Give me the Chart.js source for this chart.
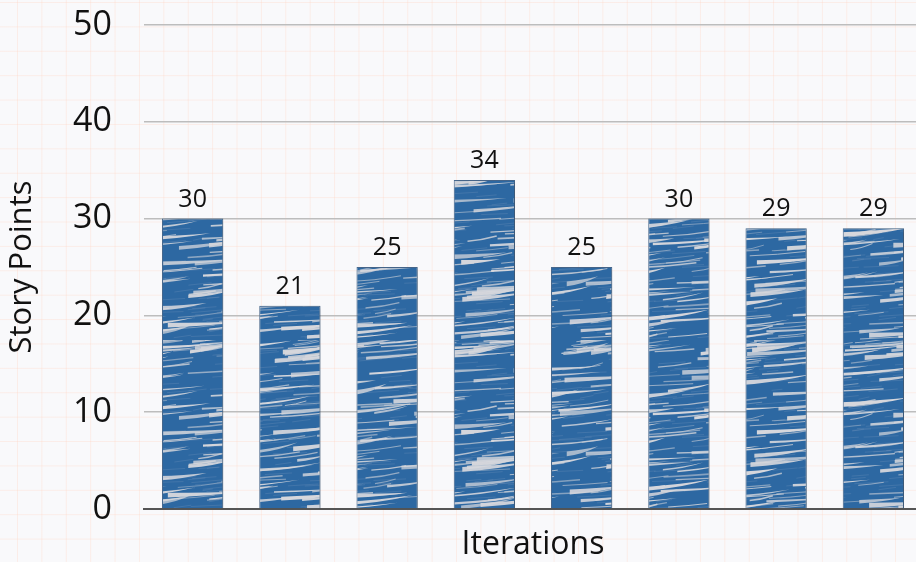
<!DOCTYPE html>
<html>
<head>
<meta charset="utf-8">
<script src="https://cdn.jsdelivr.net/npm/chart.js@4.4.1/dist/chart.umd.min.js"></script>
<style>
  html, body { margin: 0; padding: 0; overflow: hidden; }
  body {
    width: 916px; height: 562px;
    background-color: #f9f9fb;
    background-image:
      linear-gradient(to right, rgba(255, 214, 196, 0.35) 1px, transparent 1px),
      linear-gradient(to bottom, rgba(255, 214, 196, 0.35) 1px, transparent 1px);
    background-size: 24.4px 24.4px;
    background-position: 17px 2px;
  }
  #wrap { position: relative; width: 922px; height: 562px; }
</style>
</head>
<body>
<div id="wrap"><canvas id="chart"></canvas></div>
<script>
const iterations = ['Iteration 1', 'Iteration 2', 'Iteration 3', 'Iteration 4',
                    'Iteration 5', 'Iteration 6', 'Iteration 7', 'Iteration 8'];
const storyPoints = [30, 21, 25, 34, 25, 30, 29, 29];
const yTicks = [0, 10, 20, 30, 40, 50];

const FONT = '"Open Sans", Lato, sans-serif';

// Hand-drawn scribble texture for the bars: blue ground with pale streaks.
function scribblePattern() {
  const c = document.createElement('canvas');
  c.width = 980; c.height = 170;
  const g = c.getContext('2d');
  g.fillStyle = '#2d68a2';
  g.fillRect(0, 0, c.width, c.height);
  let s = 11;
  const next = () => { s = (s * 9301 + 49297) % 233280; return s / 233280; };
  // short faint hatching underneath
  for (let i = 0; i < 500; i++) {
    const y = next() * c.height;
    const x0 = next() * c.width;
    g.strokeStyle = 'rgba(150,172,200,0.4)';
    g.lineWidth = 0.5;
    g.beginPath();
    g.moveTo(x0, y);
    g.lineTo(x0 + 10 + next() * 25, y - 1 - next() * 2);
    g.stroke();
  }
  // thin pale strokes
  for (let i = 0; i < 260; i++) {
    const y = next() * c.height;
    const x0 = next() * c.width;
    const len = 20 + next() * 45;
    g.strokeStyle = 'rgba(205,208,215,' + (0.5 + next() * 0.4).toFixed(2) + ')';
    g.lineWidth = 0.6 + next() * 1.0;
    g.beginPath();
    g.moveTo(x0, y);
    g.quadraticCurveTo(x0 + len * 0.5, y - 1, x0 + len, y - 2 - next() * 4);
    g.stroke();
  }
  // tapered pale wedges, thick on the left and fading out to the right
  for (let i = 0; i < 300; i++) {
    const y = next() * c.height;
    const x0 = next() * c.width;
    const len = 30 + next() * 55;
    const rise = 3 + next() * 6;
    const w = 1 + next() * 4;
    g.fillStyle = 'rgba(214,215,220,' + (0.7 + next() * 0.3).toFixed(2) + ')';
    g.beginPath();
    g.moveTo(x0, y - w / 2);
    g.quadraticCurveTo(x0 + len * 0.55, y - rise * 0.4 - w * 0.2, x0 + len, y - rise);
    g.quadraticCurveTo(x0 + len * 0.55, y - rise * 0.2 + w * 0.3, x0, y + w / 2);
    g.closePath();
    g.fill();
  }
  return g.createPattern(c, 'repeat');
}

const barShadow = {
  id: 'barShadow',
  beforeDatasetsDraw(chart) {
    const ctx = chart.ctx;
    ctx.save();
    ctx.shadowColor = 'rgba(0,0,0,0.25)';
    ctx.shadowBlur = 5;
    ctx.shadowOffsetX = 2;
    ctx.shadowOffsetY = 1;
  },
  afterDatasetsDraw(chart) {
    chart.ctx.restore();
  }
};

const valueLabels = {
  id: 'valueLabels',
  afterDraw(chart) {
    const ctx = chart.ctx;
    const meta = chart.getDatasetMeta(0);
    ctx.save();
    ctx.font = '25px ' + FONT;
    ctx.fillStyle = '#111';
    ctx.textAlign = 'center';
    ctx.textBaseline = 'alphabetic';
    meta.data.forEach((bar, i) => {
      ctx.fillText(String(storyPoints[i]), bar.x, bar.y - 12);
    });
    ctx.restore();
  }
};

new Chart(document.getElementById('chart'), {
  type: 'bar',
  data: {
    labels: iterations,
    datasets: [{
      data: storyPoints,
      backgroundColor: scribblePattern(),
      borderColor: '#4a6c92',
      borderWidth: 1,
      barPercentage: 0.63,
      categoryPercentage: 1
    }]
  },
  options: {
    responsive: true,
    maintainAspectRatio: false,
    animation: false,
    events: [],
    layout: { padding: { top: 25, right: 0, bottom: 0, left: 0 } },
    plugins: { legend: { display: false }, tooltip: { enabled: false } },
    scales: {
      x: {
        grid: { display: false },
        border: { display: true, color: '#555', width: 2 },
        ticks: { display: false },
        title: {
          display: true, text: 'Iterations', color: '#111',
          font: { family: FONT, size: 32 }, padding: { top: 0, bottom: -2 }
        },
        afterFit(scale) { scale.height = 53; }
      },
      y: {
        min: 0, max: 50,
        afterBuildTicks(scale) { scale.ticks = yTicks.map(v => ({ value: v })); },
        grid: { color: '#bdbdbd', lineWidth: 1.5, drawTicks: false },
        border: { display: false },
        ticks: {
          color: '#111', padding: 32,
          font: { family: FONT, size: 34 }
        },
        title: {
          display: true, text: 'Story Points', color: '#111',
          font: { family: FONT, size: 31 }, padding: { top: 4, bottom: 0 }
        },
        afterFit(scale) {
          scale.width = 144;
          scale.paddingTop = 0;
          scale.paddingBottom = 0;
        }
      }
    }
  },
  plugins: [barShadow, valueLabels]
});
</script>
</body>
</html>
